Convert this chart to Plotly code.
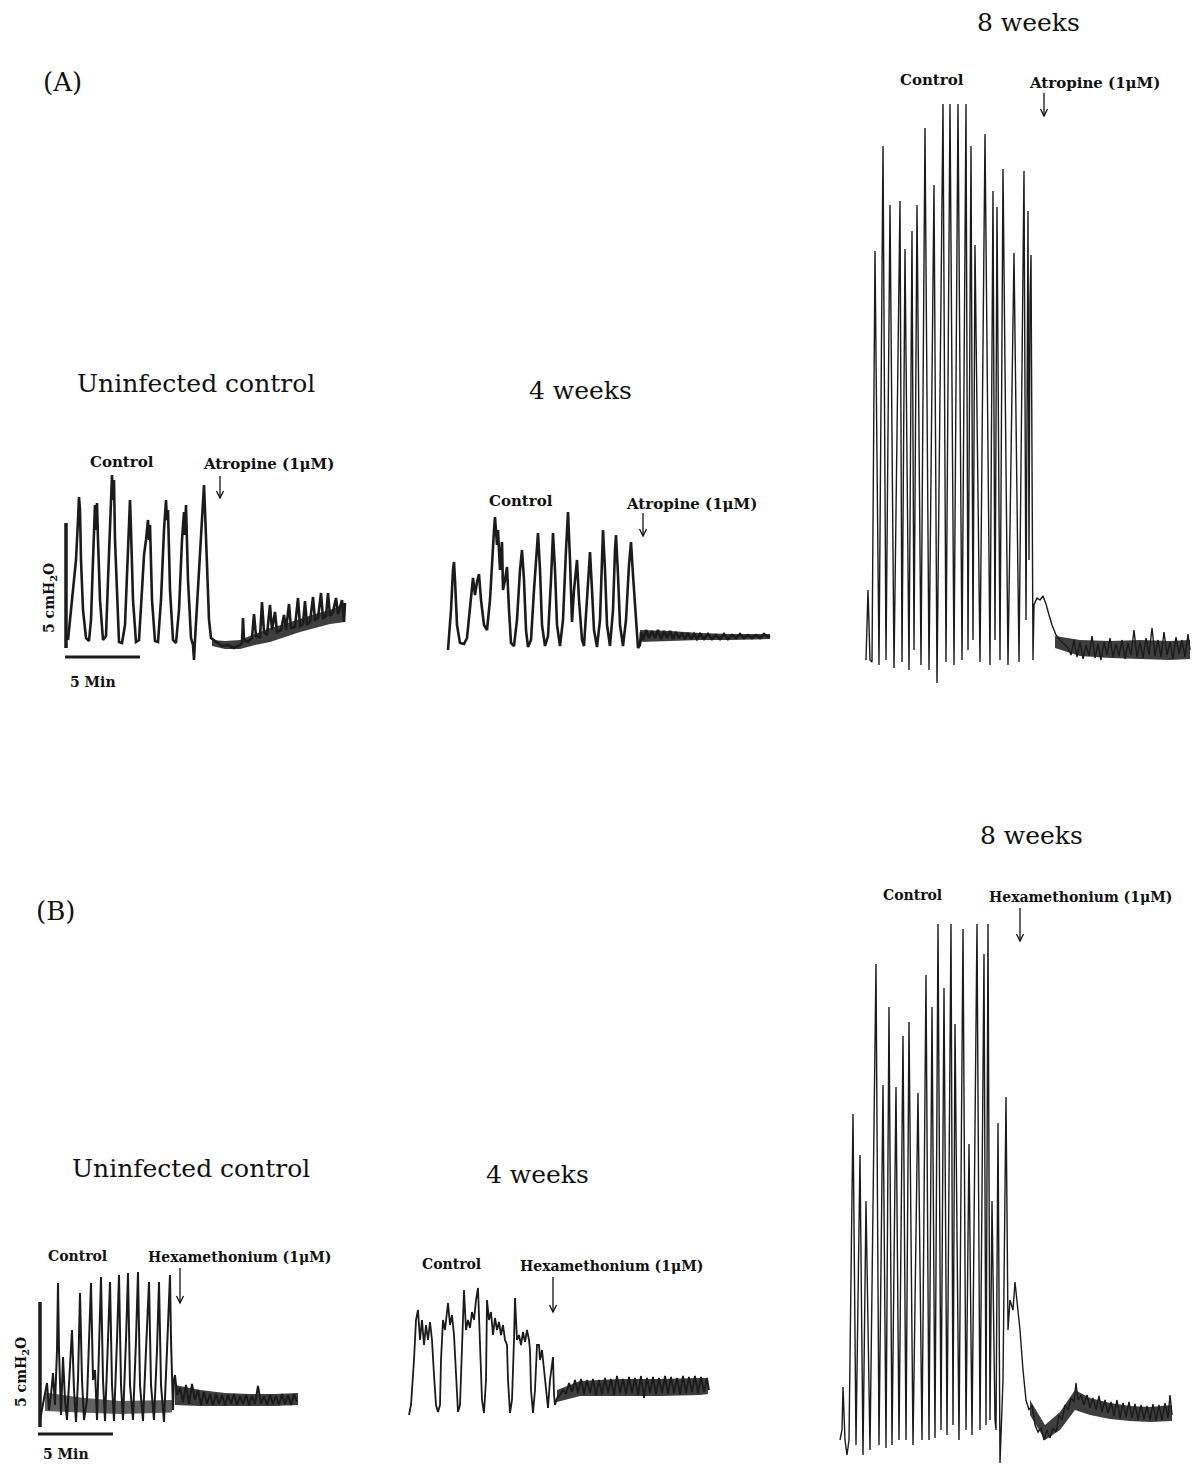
import plotly.graph_objects as go

W, H = 1193, 1465
S_PER_PX = 4.0      # seconds of recording per screen pixel
CM_PER_PX = 0.04    # cmH2O per screen pixel
INK = "#1b1b1b"
BAND = "rgba(28,28,28,0.85)"
BAND_LIGHT = "rgba(30,30,30,0.7)"
SERIF = "DejaVu Serif, Liberation Serif, serif"

SCALE_T = 300       # 5 min scale bar (s)
SCALE_P = 5.0       # 5 cmH2O scale bar

# ---------------- (A) Uninfected control, atropine ----------------
a1_t = [32, 48, 64, 72, 76, 80, 84, 92, 104, 116,
        124, 132, 140, 144, 148, 152, 160, 172, 184, 192,
        200, 208, 212, 216, 220, 228, 236, 248, 260, 272,
        280, 284, 292, 304, 316, 328, 336, 344, 352, 356,
        360, 368, 380, 392, 404, 416, 424, 428, 432, 440,
        452, 464, 476, 488, 496, 500, 504, 512, 524, 532,
        536, 540, 552, 564, 572, 576, 580, 588, 596, 604,
        624, 648, 672, 696, 720, 728, 732, 736, 752, 768,
        776, 784, 800, 808, 816, 828, 840, 848, 860, 868,
        884, 896, 904, 916, 924, 940, 952, 960, 972, 980,
        988, 1000, 1012, 1020, 1032, 1044, 1052, 1064, 1072, 1080,
        1092, 1104, 1112, 1120, 1128, 1136, 1140]
a1_p = [1.20, 2.80, 4.40, 6.00, 6.92, 6.40, 4.40, 2.40, 1.28, 1.16,
        2.00, 4.40, 6.60, 5.60, 6.68, 5.20, 2.80, 1.20, 1.36, 3.60,
        6.00, 7.80, 6.80, 7.60, 5.20, 2.80, 1.12, 1.08, 1.80, 4.80,
        6.80, 5.60, 2.80, 1.12, 1.20, 3.20, 4.60, 5.20, 6.00, 5.20,
        5.80, 2.80, 1.16, 1.12, 2.80, 5.60, 6.80, 6.00, 6.40, 3.20,
        1.20, 1.08, 2.40, 5.20, 6.32, 5.40, 6.60, 3.60, 1.28, 1.00,
        0.40, 1.20, 3.20, 5.60, 7.00, 7.40, 6.40, 4.00, 2.00, 1.28,
        1.12, 0.96, 1.00, 0.88, 1.00, 1.08, 2.08, 1.20, 1.12, 1.28,
        2.24, 1.36, 1.32, 2.72, 1.52, 1.40, 2.60, 1.60, 2.32, 1.52,
        1.60, 2.20, 1.60, 2.64, 1.68, 1.72, 2.88, 1.76, 1.84, 2.76,
        1.84, 1.92, 2.92, 2.00, 2.08, 3.08, 2.08, 2.16, 3.08, 2.16,
        2.32, 2.88, 2.24, 2.48, 2.80, 1.92, 2.68]
a1_band_t = [608, 660, 720, 780, 840, 900, 960, 1020, 1080, 1140]
a1_band_hi = [1.20, 1.16, 1.20, 1.44, 1.68, 1.84, 2.04, 2.24, 2.40, 2.64]
a1_band_lo = [0.96, 0.84, 0.84, 1.00, 1.12, 1.32, 1.52, 1.68, 1.84, 1.92]

# ---------------- (A) 4 weeks, atropine ----------------
a2_t = [12, 24, 32, 36, 40, 48, 60, 76, 88, 100,
        108, 112, 120, 128, 136, 144, 156, 168, 180, 188,
        196, 200, 208, 212, 220, 228, 232, 240, 248, 256,
        264, 276, 288, 300, 308, 316, 324, 332, 344, 356,
        368, 372, 380, 388, 400, 412, 424, 432, 440, 448,
        460, 472, 484, 492, 500, 508, 516, 528, 536, 548,
        556, 568, 576, 580, 588, 596, 608, 620, 628, 632,
        640, 648, 660, 672, 680, 684, 692, 700, 712, 724,
        736, 744, 752, 764, 772, 780, 784, 792, 804, 816,
        828, 840, 852, 864, 876, 888, 900, 912, 924, 936,
        948, 960, 972, 984, 996, 1008, 1020, 1036, 1052, 1068,
        1084, 1100, 1116, 1132, 1148, 1164, 1180, 1196, 1212, 1228,
        1244, 1260, 1276, 1292, 1300]
a2_p = [0.40, 2.00, 3.60, 3.92, 3.20, 1.40, 0.68, 0.64, 0.88, 2.00,
        3.00, 3.28, 2.60, 3.12, 3.44, 2.40, 1.40, 1.20, 2.40, 4.00,
        5.20, 5.72, 4.60, 5.20, 3.60, 4.72, 2.80, 3.20, 3.72, 2.00,
        0.68, 0.56, 1.60, 3.60, 4.40, 3.20, 1.20, 0.52, 0.80, 2.80,
        4.60, 5.08, 3.60, 1.40, 0.56, 0.96, 3.20, 5.08, 3.60, 1.40,
        0.56, 1.60, 4.40, 5.92, 4.00, 1.52, 2.80, 4.00, 2.40, 0.80,
        0.56, 2.40, 4.00, 4.32, 2.80, 1.20, 0.52, 1.60, 4.00, 5.20,
        3.60, 1.40, 0.56, 2.00, 4.40, 5.00, 3.40, 1.40, 0.56, 1.60,
        3.80, 4.72, 3.40, 1.40, 0.48, 0.60, 1.12, 0.80, 1.20, 0.88,
        1.16, 0.88, 1.20, 0.84, 1.16, 0.88, 1.16, 0.84, 1.12, 0.88,
        1.08, 0.84, 1.08, 0.84, 1.04, 0.84, 1.04, 0.84, 1.04, 0.84,
        1.00, 0.84, 1.04, 0.84, 1.00, 0.88, 1.04, 0.88, 1.00, 0.88,
        1.00, 0.88, 1.04, 0.92, 0.96]
a2_band_t = [780, 900, 1020, 1140, 1300]
a2_band_hi = [1.20, 1.16, 1.08, 1.04, 1.04]
a2_band_lo = [0.72, 0.76, 0.80, 0.80, 0.84]

# ---------------- (A) 8 weeks, atropine ----------------
a3_t = [24, 32, 40, 48, 60, 76, 92, 104, 120, 136,
        160, 168, 180, 196, 208, 216, 228, 244, 260, 276,
        296, 308, 332, 344, 360, 376, 392, 408, 424, 432,
        444, 452, 460, 480, 500, 520, 532, 540, 548, 560,
        572, 592, 616, 636, 656, 664, 672, 676, 680, 684,
        692, 696, 708, 720, 732, 744, 756, 768, 784, 800,
        820, 832, 844, 856, 868, 880, 892, 904, 916, 928,
        940, 952, 964, 976, 988, 1000, 1012, 1024, 1036, 1048,
        1060, 1072, 1084, 1096, 1108, 1120, 1132, 1144, 1156, 1168,
        1180, 1192, 1204, 1216, 1228, 1240, 1252, 1264, 1276, 1288,
        1300, 1312, 1320]
a3_p = [1.20, 4.00, 1.20, 1.12, 17.56, 1.00, 21.76, 1.20, 19.40, 0.88,
        19.56, 1.12, 17.64, 0.80, 18.36, 1.60, 19.40, 1.00, 22.48, 0.80,
        20.20, 0.28, 23.44, 1.12, 23.44, 1.00, 23.44, 1.20, 23.44, 1.60,
        21.76, 2.00, 17.80, 1.12, 22.24, 1.00, 19.96, 2.00, 19.32, 1.20,
        20.84, 1.00, 17.48, 1.12, 20.76, 2.80, 19.16, 5.20, 15.60, 17.40,
        1.20, 3.40, 3.68, 3.60, 3.76, 3.44, 3.00, 2.60, 2.20, 2.00,
        1.80, 1.68, 1.40, 2.00, 1.32, 1.92, 1.24, 1.80, 1.36, 2.16,
        1.28, 1.84, 1.20, 1.92, 1.40, 2.08, 1.32, 1.84, 1.36, 2.00,
        1.24, 1.88, 1.40, 2.40, 1.32, 1.92, 1.28, 2.08, 1.40, 2.48,
        1.36, 2.00, 1.32, 2.32, 1.40, 1.92, 1.24, 2.12, 1.44, 2.00,
        1.32, 2.24, 1.60]
a3_band_t = [780, 880, 1000, 1120, 1240, 1320]
a3_band_hi = [2.16, 2.00, 1.96, 2.00, 1.96, 2.00]
a3_band_lo = [1.68, 1.36, 1.28, 1.24, 1.20, 1.24]

# ---------------- (B) Uninfected control, hexamethonium ----------------
b1_t = [20, 36, 48, 56, 64, 72, 80, 88, 92, 96,
        104, 112, 120, 128, 140, 148, 156, 164, 172, 180,
        188, 196, 208, 216, 224, 232, 240, 248, 256, 264,
        272, 280, 292, 300, 308, 316, 328, 336, 344, 352,
        364, 372, 380, 392, 404, 412, 420, 432, 444, 456,
        464, 476, 488, 496, 504, 516, 528, 540, 544, 552,
        556, 560, 568, 580, 592, 604, 616, 628, 640, 652,
        664, 676, 688, 700, 712, 724, 736, 748, 760, 772,
        784, 796, 808, 820, 832, 844, 856, 868, 880, 892,
        904, 916, 928, 940, 952, 964, 976, 988, 1000, 1012,
        1024, 1036, 1048]
b1_p = [0.60, 1.40, 2.08, 1.00, 1.60, 2.48, 1.20, 3.40, 6.08, 3.40,
        0.80, 3.12, 1.40, 0.60, 3.00, 4.20, 1.80, 0.52, 2.20, 5.68,
        2.20, 0.60, 1.40, 3.80, 6.08, 2.20, 2.60, 0.60, 3.80, 6.32,
        2.20, 0.56, 3.80, 6.12, 2.00, 0.56, 3.80, 6.40, 2.00, 0.60,
        3.80, 6.48, 2.00, 0.60, 3.80, 6.52, 2.00, 0.56, 3.40, 6.12,
        2.00, 0.60, 3.40, 6.12, 2.00, 0.52, 3.40, 6.40, 3.80, 1.00,
        2.20, 2.40, 1.60, 1.88, 1.32, 2.00, 1.24, 2.04, 1.40, 1.80,
        1.20, 1.72, 1.24, 1.64, 1.20, 1.64, 1.24, 1.60, 1.20, 1.60,
        1.24, 1.64, 1.20, 1.56, 1.24, 1.60, 1.20, 1.56, 1.24, 1.96,
        1.24, 1.56, 1.20, 1.60, 1.24, 1.56, 1.20, 1.64, 1.24, 1.60,
        1.20, 1.64, 1.32]
b1_band_t = [560, 660, 760, 860, 960, 1052]
b1_band_hi = [2.00, 1.80, 1.68, 1.64, 1.64, 1.68]
b1_band_lo = [1.20, 1.16, 1.16, 1.16, 1.16, 1.20]
b1_pre_band_t = [40, 180, 340, 548]
b1_pre_band_hi = [1.70, 1.50, 1.36, 1.40]
b1_pre_band_lo = [0.96, 0.90, 0.84, 0.90]

# ---------------- (B) 4 weeks, hexamethonium ----------------
b2_t = [16, 24, 36, 44, 52, 60, 68, 76, 84, 92,
        100, 108, 116, 124, 132, 140, 144, 152, 160, 168,
        172, 180, 188, 196, 204, 212, 220, 228, 236, 244,
        252, 260, 268, 276, 284, 292, 300, 308, 316, 324,
        328, 336, 344, 352, 360, 368, 376, 384, 392, 400,
        408, 412, 420, 428, 436, 440, 448, 456, 464, 472,
        480, 488, 496, 500, 504, 512, 520, 528, 536, 540,
        548, 556, 564, 572, 580, 588, 592, 596, 600, 608,
        620, 632, 644, 656, 668, 680, 692, 704, 716, 728,
        740, 752, 764, 776, 788, 800, 812, 824, 836, 848,
        860, 872, 884, 896, 908, 920, 932, 944, 956, 968,
        980, 992, 1004, 1016, 1028, 1040, 1052, 1064, 1076, 1088,
        1100, 1112, 1124, 1136, 1148, 1160, 1172, 1184, 1196, 1208,
        1216]
b2_p = [0.20, 0.60, 2.40, 4.00, 4.40, 3.20, 4.00, 3.00, 3.80, 3.20,
        3.92, 3.20, 1.80, 0.60, 0.32, 0.60, 2.40, 4.00, 3.60, 4.40,
        4.68, 3.80, 4.20, 3.40, 1.60, 0.32, 0.60, 2.80, 5.20, 3.60,
        4.00, 3.68, 4.32, 4.00, 4.80, 5.28, 3.20, 0.80, 0.28, 1.60,
        4.80, 4.00, 4.32, 3.40, 4.08, 3.60, 3.92, 3.40, 3.80, 3.20,
        3.00, 1.60, 0.28, 0.80, 3.20, 4.88, 3.20, 3.40, 3.00, 3.52,
        3.12, 3.60, 3.20, 2.80, 1.20, 0.28, 1.20, 3.00, 3.00, 2.40,
        2.80, 2.08, 1.40, 0.48, 1.60, 2.40, 2.52, 1.00, 0.60, 0.88,
        1.00, 1.20, 1.04, 1.48, 1.12, 1.60, 1.08, 1.64, 1.04, 1.60,
        1.08, 1.64, 1.00, 1.60, 1.04, 1.68, 1.08, 1.64, 1.00, 1.76,
        1.08, 1.64, 1.04, 1.72, 1.08, 1.68, 1.00, 1.76, 0.88, 1.68,
        1.08, 1.72, 1.04, 1.68, 1.08, 1.76, 1.04, 1.72, 1.08, 1.68,
        1.04, 1.76, 1.08, 1.72, 1.12, 1.76, 1.08, 1.72, 1.12, 1.68,
        1.20]
b2_band_t = [608, 700, 860, 1020, 1180, 1212]
b2_band_hi = [1.20, 1.56, 1.64, 1.64, 1.68, 1.68]
b2_band_lo = [0.72, 0.96, 0.96, 0.96, 1.00, 1.04]

# ---------------- (B) 8 weeks, hexamethonium ----------------
b3_t = [8, 16, 20, 28, 36, 44, 60, 72, 88, 100,
        112, 128, 152, 164, 180, 192, 204, 216, 232, 244,
        260, 272, 284, 300, 320, 336, 352, 364, 376, 388,
        400, 412, 424, 436, 452, 460, 468, 484, 500, 512,
        524, 536, 556, 568, 584, 592, 600, 608, 616, 628,
        632, 640, 648, 660, 672, 680, 688, 700, 708, 716,
        728, 740, 752, 764, 776, 788, 800, 812, 824, 836,
        848, 860, 872, 884, 896, 908, 920, 932, 944, 952,
        960, 972, 984, 996, 1008, 1020, 1032, 1044, 1056, 1068,
        1080, 1092, 1104, 1116, 1128, 1140, 1152, 1164, 1176, 1188,
        1200, 1212, 1224, 1236, 1248, 1260, 1272, 1284, 1296, 1308,
        1320, 1328, 1336]
b3_p = [1.20, 1.60, 3.32, 1.20, 0.60, 1.20, 14.24, 1.00, 12.60, 0.60,
        10.76, 0.80, 20.24, 1.00, 15.40, 0.88, 18.52, 1.00, 15.32, 1.20,
        17.36, 1.20, 17.92, 1.00, 15.08, 1.20, 19.80, 1.20, 18.52, 1.28,
        21.84, 1.60, 19.28, 1.40, 21.84, 1.80, 17.84, 1.20, 21.64, 1.60,
        13.04, 1.40, 21.84, 1.60, 20.64, 1.80, 21.84, 2.00, 10.76, 2.00,
        1.60, 13.88, 0.28, 3.60, 14.92, 5.60, 6.80, 6.40, 7.52, 6.80,
        5.60, 4.00, 2.80, 2.40, 2.60, 1.80, 1.52, 1.68, 1.20, 1.60,
        1.28, 1.68, 1.52, 2.20, 2.00, 2.60, 2.40, 2.88, 2.72, 3.48,
        2.80, 3.00, 2.60, 3.00, 2.48, 2.88, 2.40, 2.96, 2.32, 2.80,
        2.28, 2.72, 2.16, 2.80, 2.08, 2.68, 2.12, 2.72, 2.08, 2.64,
        2.00, 2.60, 2.04, 2.56, 2.00, 2.64, 1.96, 2.60, 2.00, 2.68,
        2.08, 3.00, 2.20]
b3_band_t = [768, 828, 888, 948, 1008, 1088, 1168, 1248, 1336]
b3_band_hi = [2.80, 1.80, 2.32, 3.20, 2.88, 2.68, 2.56, 2.52, 2.60]
b3_band_lo = [2.20, 1.20, 1.60, 2.40, 2.20, 2.04, 1.96, 1.92, 1.96]

# panel placement: screen pixel of (t=0, p=0), and visible data ranges
panels = [
    dict(t=a1_t, p=a1_p, bands=[(a1_band_t, a1_band_hi, a1_band_lo, BAND)],
         origin=(60, 670), tr=(0, 1160), pr=(0, 8.4), lw=2.6),
    dict(t=a2_t, p=a2_p, bands=[(a2_band_t, a2_band_hi, a2_band_lo, BAND)],
         origin=(445, 660), tr=(0, 1320), pr=(0, 6.8), lw=2.6),
    dict(t=a3_t, p=a3_p, bands=[(a3_band_t, a3_band_hi, a3_band_lo, BAND)],
         origin=(860, 690), tr=(0, 1332), pr=(0, 24.0), lw=1.4),
    dict(t=b1_t, p=b1_p, bands=[(b1_band_t, b1_band_hi, b1_band_lo, BAND),
                                (b1_pre_band_t, b1_pre_band_hi, b1_pre_band_lo, BAND_LIGHT)],
         origin=(35, 1435), tr=(0, 1060), pr=(-0.4, 7.0), lw=2.0),
    dict(t=b2_t, p=b2_p, bands=[(b2_band_t, b2_band_hi, b2_band_lo, BAND)],
         origin=(405, 1420), tr=(0, 1228), pr=(0, 5.6), lw=1.8),
    dict(t=b3_t, p=b3_p, bands=[(b3_band_t, b3_band_hi, b3_band_lo, BAND)],
         origin=(838, 1470), tr=(0, 1368), pr=(0.2, 22.8), lw=1.4),
]

fig = go.Figure()
axes = {}
clamp = lambda v: max(0.0, min(1.0, v))
for i, pn in enumerate(panels, start=1):
    sx = "" if i == 1 else str(i)
    xa, ya = "x" + sx, "y" + sx
    x0, y0 = pn["origin"]
    left = x0 + pn["tr"][0] / S_PER_PX
    right = x0 + pn["tr"][1] / S_PER_PX
    bottom = y0 - pn["pr"][0] / CM_PER_PX
    top = y0 - pn["pr"][1] / CM_PER_PX
    axes["xaxis" + sx] = dict(domain=[clamp(left / W), clamp(right / W)],
                              range=list(pn["tr"]), visible=False,
                              anchor=ya, fixedrange=True)
    axes["yaxis" + sx] = dict(domain=[clamp(1 - bottom / H), clamp(1 - top / H)],
                              range=list(pn["pr"]), visible=False,
                              anchor=xa, fixedrange=True)
    for bt, bh, bl, col in pn["bands"]:
        fig.add_trace(go.Scatter(x=bt + bt[::-1], y=bh + bl[::-1], fill="toself",
                                 fillcolor=col, mode="lines", line=dict(width=0),
                                 xaxis=xa, yaxis=ya, hoverinfo="skip", showlegend=False))
    fig.add_trace(go.Scatter(x=pn["t"], y=pn["p"], mode="lines",
                             line=dict(color=INK, width=pn["lw"]),
                             xaxis=xa, yaxis=ya, hoverinfo="skip", showlegend=False))

# calibration bars (5 cmH2O, 5 min) in the uninfected-control panels
def scale_bars(xa, ya, t_v, p_v0, t_h0, p_h):
    fig.add_trace(go.Scatter(x=[t_v, t_v], y=[p_v0, p_v0 + SCALE_P], mode="lines",
                             line=dict(color=INK, width=3.5), xaxis=xa, yaxis=ya,
                             hoverinfo="skip", showlegend=False))
    fig.add_trace(go.Scatter(x=[t_h0, t_h0 + SCALE_T], y=[p_h, p_h], mode="lines",
                             line=dict(color=INK, width=3), xaxis=xa, yaxis=ya,
                             hoverinfo="skip", showlegend=False))

scale_bars("x", "y", 24, 0.88, 20, 0.52)
scale_bars("x4", "y4", 20, 0.32, 12, 0.04)

ann = []
shapes = []
def txt(px, py, s, size, bold=False, angle=0):
    ann.append(dict(x=px / W, y=1 - py / H, xref="paper", yref="paper",
                    text=("<b>%s</b>" % s) if bold else s, showarrow=False,
                    xanchor="center", yanchor="middle", textangle=angle,
                    font=dict(family=SERIF, size=size, color="#111")))

def arrow(px, py_tail, py_tip):
    X = lambda v: v / W
    Y = lambda v: 1 - v / H
    shapes.append(dict(type="line", xref="paper", yref="paper",
                       x0=X(px), x1=X(px), y0=Y(py_tail), y1=Y(py_tip),
                       line=dict(color="#111", width=1.3)))
    shapes.append(dict(type="path", xref="paper", yref="paper",
                       path="M %.5f %.5f L %.5f %.5f L %.5f %.5f" % (
                           X(px - 3.5), Y(py_tip - 7), X(px), Y(py_tip),
                           X(px + 3.5), Y(py_tip - 7)),
                       line=dict(color="#111", width=1.3)))

# (A)
txt(62, 82, "(A)", 26)
txt(196, 383, "Uninfected control", 25)
txt(580, 391, "4 weeks", 25)
txt(1028, 22, "8 weeks", 25)
txt(122, 462, "Control", 15, True)
txt(268, 464, "Atropine (1μM)", 15, True)
arrow(220, 476, 498)
txt(521, 501, "Control", 15, True)
txt(691, 504, "Atropine (1μM)", 15, True)
arrow(643, 513, 536)
txt(932, 80, "Control", 15, True)
txt(1094, 83, "Atropine (1μM)", 15, True)
arrow(1044, 93, 116)
txt(50, 598, "5 cmH<sub>2</sub>O", 14, True, -90)
txt(93, 682, "5 Min", 14, True)

# (B)
txt(55, 911, "(B)", 26)
txt(191, 1168, "Uninfected control", 25)
txt(537, 1174, "4 weeks", 25)
txt(1031, 835, "8 weeks", 25)
txt(77, 1256, "Control", 14, True)
txt(239, 1257, "Hexamethonium (1μM)", 14, True)
arrow(180, 1268, 1303)
txt(451, 1264, "Control", 14, True)
txt(611, 1266, "Hexamethonium (1μM)", 14, True)
arrow(553, 1277, 1312)
txt(913, 895, "Control", 14, True)
txt(1080, 897, "Hexamethonium (1μM)", 14, True)
arrow(1020, 908, 941)
txt(22, 1372, "5 cmH<sub>2</sub>O", 14, True, -90)
txt(66, 1454, "5 Min", 14, True)

fig.update_layout(width=W, height=H, margin=dict(l=0, r=0, t=0, b=0),
                  paper_bgcolor="white", plot_bgcolor="rgba(0,0,0,0)",
                  showlegend=False, annotations=ann, shapes=shapes, **axes)
fig.write_html("out.html", config={"displayModeBar": False},
               post_script="document.body.style.margin='0px';document.body.style.overflow='hidden';")
